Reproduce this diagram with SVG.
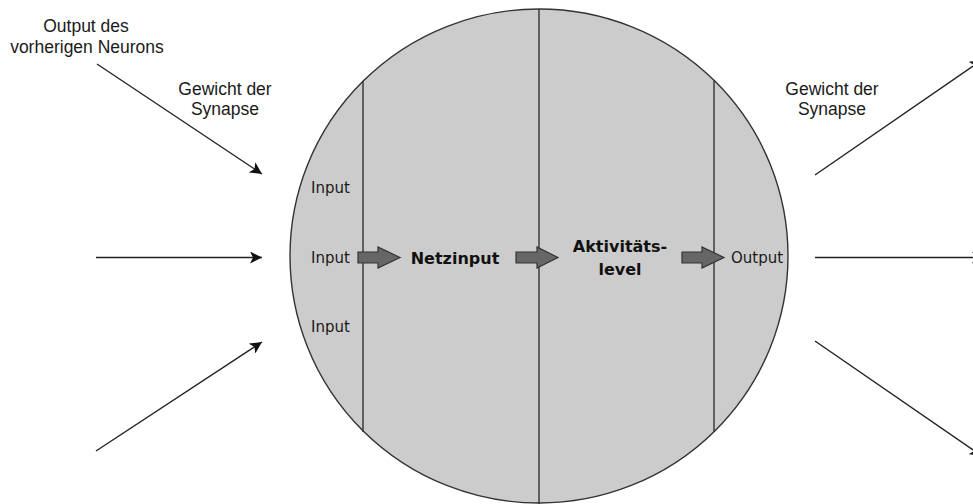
<svg xmlns="http://www.w3.org/2000/svg" width="973" height="504" viewBox="0 0 973 504">
<style>
.lbl{font-family:"Liberation Sans",Arial,sans-serif;font-size:17.5px;fill:#1a1a1a;text-anchor:middle}
.in{font-family:"DejaVu Sans",Verdana,sans-serif;font-size:15px;fill:#1a1a1a;text-anchor:middle}
.inb{font-family:"DejaVu Sans",Verdana,sans-serif;font-size:16px;font-weight:bold;fill:#111;text-anchor:middle}
.div{stroke:#333;stroke-width:1.4;fill:none}
.conn{stroke:#222;stroke-width:1.4;fill:none;marker-end:url(#ah)}
.blk{fill:#666;stroke:#333;stroke-width:1.2}
</style>
<defs>
<marker id="ah" markerUnits="userSpaceOnUse" markerWidth="14" markerHeight="12" refX="12" refY="6" orient="auto">
<path d="M0,0 L12,6 L0,12 L3,6 Z" fill="#111"/>
</marker>
</defs>
<rect width="973" height="504" fill="#fff"/>
<g id="neuron">
<ellipse cx="539" cy="256" rx="249" ry="247" fill="#ccc" stroke="#333" stroke-width="1.4"/>
<line class="div" x1="539" y1="9" x2="539" y2="504"/>
<line class="div" x1="363" y1="81" x2="363" y2="432"/>
<line class="div" x1="714" y1="81" x2="714" y2="432"/>
</g>
<g id="inputs">
<text class="in" x="330.5" y="193">Input</text>
<text class="in" x="330.5" y="262.5">Input</text>
<text class="in" x="330.5" y="331.5">Input</text>
</g>
<g id="netzinput"><text class="inb" x="455" y="264">Netzinput</text></g>
<g id="aktivitaet"><text class="inb" x="620" y="252">Aktivitäts-</text><text class="inb" x="620" y="275">level</text></g>
<g id="output"><text class="in" x="757" y="262.5">Output</text></g>
<g id="block-arrows">
<path class="blk" d="M358,252 L378,252 L378,247 L400,257.5 L378,268 L378,263 L358,263 Z"/>
<path class="blk" d="M516,252 L537,252 L537,247 L558,257.5 L537,268 L537,263 L516,263 Z"/>
<path class="blk" d="M682,252 L702,252 L702,247 L724,257.5 L702,268 L702,263 L682,263 Z"/>
</g>
<g id="labels">
<text class="lbl" x="86" y="32">Output des</text>
<text class="lbl" x="87" y="53">vorherigen Neurons</text>
<text class="lbl" x="225" y="95">Gewicht der</text>
<text class="lbl" x="225" y="115">Synapse</text>
<text class="lbl" x="832" y="95">Gewicht der</text>
<text class="lbl" x="832" y="115">Synapse</text>
</g>
<g id="connectors">
<line class="conn" x1="97" y1="64" x2="262" y2="174"/>
<line class="conn" x1="96" y1="257.5" x2="262" y2="257.5"/>
<line class="conn" x1="96" y1="451" x2="262" y2="342"/>
<line class="conn" x1="815" y1="175" x2="982" y2="60"/>
<line class="conn" x1="815" y1="257.5" x2="984" y2="257.5"/>
<line class="conn" x1="815" y1="341" x2="982" y2="456"/>
</g>
</svg>
